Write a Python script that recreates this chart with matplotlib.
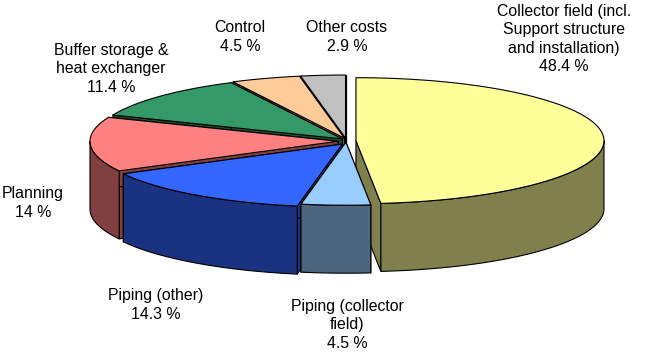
import numpy as np
import matplotlib
matplotlib.use('Agg')
import matplotlib.pyplot as plt
from matplotlib.colors import to_rgb

plt.rcParams['font.family'] = ['Liberation Sans', 'DejaVu Sans']

names = ['Collector field (incl.\nSupport structure\nand installation)', 'Piping (collector\nfield)',
         'Piping (other)', 'Planning', 'Buffer storage &\nheat exchanger', 'Control', 'Other costs']
values = [48.4, 4.5, 14.3, 14, 11.4, 4.5, 2.9]
colors = ['#FFFF99', '#99CCFF', '#3366FF', '#FF8080', '#339966', '#FFCC99', '#C0C0C0']
explode = [10, 2, 6.5, 8, 5, 5, 5]

# pixel geometry of the tilted disc
cx, cy = 346, 141
rx, ry = 248, 63
depth = 68
lw = 0.8

label_pos = [(564, 39), (347, 325), (156, 305), (33, 203), (111, 69), (240, 37), (347, 37)]

fig = plt.figure(figsize=(6.49, 3.62), dpi=100)
ax = fig.add_axes([0, 0, 1, 1])
ax.set_xlim(0, 649)
ax.set_ylim(362, 0)
ax.axis('off')

edges = np.cumsum([0] + values) / sum(values) * 2 * np.pi


def arc(c, t0, t1, n=80):
    t = np.linspace(t0, t1, n)
    return np.column_stack([c[0] + rx * np.sin(t), c[1] - ry * np.cos(t)])


def draw_slice(i):
    t0, t1 = edges[i], edges[i + 1]
    mid = (t0 + t1) / 2
    c = np.array([cx + explode[i] * np.sin(mid), cy - 0.6 * explode[i] * np.cos(mid)])
    dark = tuple(v * 0.5 for v in to_rgb(colors[i]))
    down = np.array([0, depth])
    # cut faces
    for t in (t0, t1):
        p = arc(c, t, t, 1)[0]
        ax.fill(*zip(c, p, p + down, c + down), fc=dark, ec='black', lw=lw, joinstyle='round')
    # outer rim, only the part facing the viewer
    a, b = max(t0, np.pi / 2), min(t1, 3 * np.pi / 2)
    if a < b:
        top = arc(c, a, b)
        ax.fill(*np.vstack([top, top[::-1] + down]).T, fc=dark, ec='black', lw=lw, joinstyle='round')
    ax.fill(*np.vstack([c, arc(c, t0, t1)]).T, fc=colors[i], ec='black', lw=lw, joinstyle='round')


# back slices first, the front ones paint over them
for i in [6, 5, 4, 3, 0, 2, 1]:
    draw_slice(i)

for name, v, (x, y) in zip(names, values, label_pos):
    ax.text(x, y, '%s\n%g %%' % (name, v), ha='center', va='center', fontsize=11.4,
            linespacing=1.27, color='black')

plt.savefig('out.png', dpi=100)
